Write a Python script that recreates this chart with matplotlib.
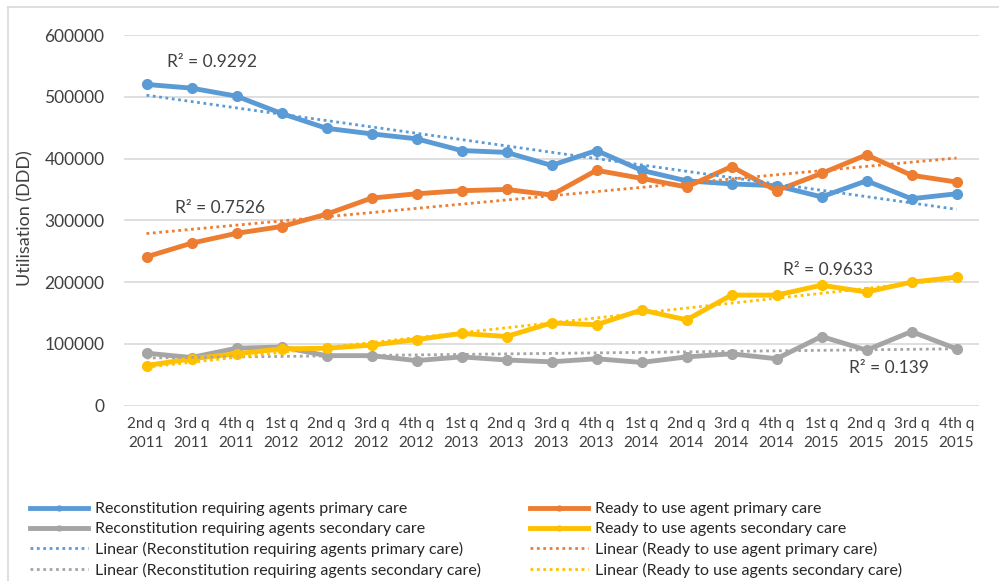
import numpy as np
import matplotlib
matplotlib.use("Agg")
import matplotlib.pyplot as plt
from matplotlib.lines import Line2D

plt.rcParams['font.family'] = ['Lato', 'DejaVu Sans']

quarters = ["2nd q\n2011", "3rd q\n2011", "4th q\n2011", "1st q\n2012", "2nd q\n2012",
            "3rd q\n2012", "4th q\n2012", "1st q\n2013", "2nd q\n2013", "3rd q\n2013",
            "4th q\n2013", "1st q\n2014", "2nd q\n2014", "3rd q\n2014", "4th q\n2014",
            "1st q\n2015", "2nd q\n2015", "3rd q\n2015", "4th q\n2015"]

recon_primary = [520000, 514000, 501000, 473000, 449000, 440000, 432000, 413000, 410000, 389000,
                 413000, 381000, 364000, 359000, 356000, 338000, 364000, 335000, 343000]
ready_primary = [241000, 263000, 279000, 290000, 310000, 336000, 343000, 348000, 350000, 341000,
                 381000, 368000, 354000, 387000, 348000, 376000, 406000, 373000, 362000]
recon_secondary = [85000, 78000, 93000, 95000, 81000, 81000, 73000, 79000, 74000, 71000,
                   76000, 70000, 79000, 84000, 76000, 112000, 90000, 120000, 92000]
ready_secondary = [65000, 76000, 84000, 92000, 93000, 98000, 107000, 117000, 112000, 134000,
                   131000, 155000, 139000, 179000, 179000, 195000, 184000, 200000, 208000]

series = [
    ("Reconstitution requiring agents primary care", recon_primary, "#5B9BD5"),
    ("Ready to use agent primary care", ready_primary, "#ED7D31"),
    ("Reconstitution requiring agents secondary care", recon_secondary, "#A5A5A5"),
    ("Ready to use agents secondary care", ready_secondary, "#FFC000"),
]

# R² labels: text, x position (category index), y position
r2_labels = [("R² = 0.9292", 1.45, 556000),
             ("R² = 0.7526", 1.63, 320000),
             ("R² = 0.9633", 15.15, 220000),
             ("R² = 0.139", 16.5, 61000)]

fig = plt.figure(figsize=(9.99, 5.81), dpi=100)
ax = fig.add_axes([124 / 999, 1 - 405.7 / 581, 855 / 999, (405.7 - 35) / 581])

x = np.arange(len(quarters))
handles = {}
trend_handles = {}
for name, vals, col in series:
    h, = ax.plot(x, vals, color=col, lw=3.5, marker='o', ms=7, zorder=3,
                 solid_joinstyle='round')
    handles[name] = h
    slope, icpt = np.polyfit(x, vals, 1)
    t, = ax.plot(x, slope * x + icpt, color=col, lw=2, ls=(0, (1, 1.3)), zorder=4)
    trend_handles[name] = t

for txt, xi, yi in r2_labels:
    ax.text(xi, yi, txt, ha='center', va='center', fontsize=12.5, color='#404040')

ax.set_xlim(-0.5, len(quarters) - 0.5)
ax.set_ylim(0, 600000)
ax.set_yticks(range(0, 600001, 100000))
ax.set_yticklabels([str(v) for v in range(0, 600001, 100000)])
ax.set_xticks(x)
ax.set_xticklabels(quarters, linespacing=1.5)
ax.tick_params(axis='y', length=0, pad=14, labelsize=12.5, labelcolor='#404040')
ax.tick_params(axis='x', length=0, pad=8, labelsize=11, labelcolor='#404040')
ax.grid(axis='y', color='#D9D9D9', lw=1.2)
ax.set_axisbelow(True)
for s in ax.spines.values():
    s.set_visible(False)

fig.text(25 / 999, 1 - 218 / 581, "Utilisation (DDD)", rotation=90, ha='center',
         va='center', fontsize=13, color='#404040')

# chart frame (top and left edges)
fig.add_artist(Line2D([8 / 999, 1], [1 - 7 / 581, 1 - 7 / 581], color='#D9D9D9', lw=1.2))
fig.add_artist(Line2D([8 / 999, 8 / 999], [0, 1 - 7 / 581], color='#D9D9D9', lw=1.2))

left_names = [series[0][0], series[2][0]]
right_names = [series[1][0], series[3][0]]
for names, xpos in [(left_names, 30), (right_names, 530)]:
    hs = [handles[n] for n in names] + [trend_handles[n] for n in names]
    labs = names + ["Linear (%s)" % n for n in names]
    fig.legend(hs, labs, loc='upper left', bbox_to_anchor=(xpos / 999, 1 - 502 / 581),
               frameon=False, fontsize=11.5, handlelength=3.6, handletextpad=0.45,
               labelspacing=0.36, borderpad=0, borderaxespad=0, numpoints=1,
               markerscale=0.5, labelcolor='#262626')

fig.savefig("out.png", dpi=100)
